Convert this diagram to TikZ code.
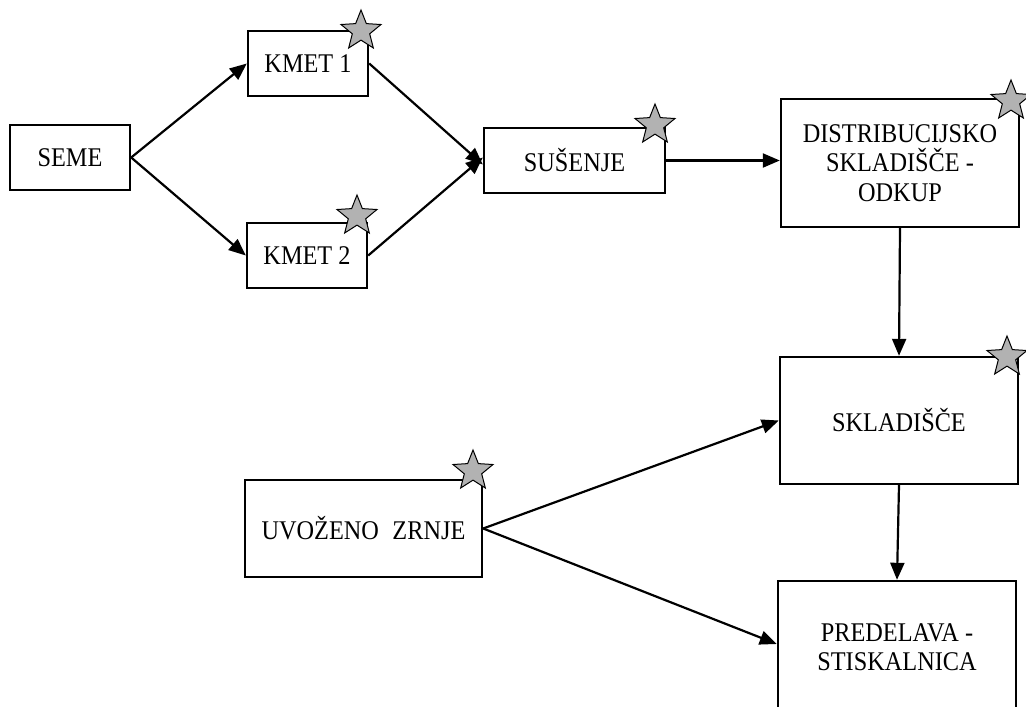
\documentclass[tikz,border=0pt]{standalone}
\usepackage{fontspec}
\setmainfont[FakeStretch=0.9]{Liberation Serif}
\usetikzlibrary{shapes.geometric,arrows.meta}
\begin{document}
\begin{tikzpicture}[x=1pt,y=-1pt,
  box/.style={draw,line width=2.4pt,inner sep=0pt,align=center,
    font=\fontsize{27}{29.5}\selectfont},
  starmark/.style={star,star points=5,star point ratio=2.3,minimum size=42pt,
    inner sep=0pt,draw,line width=1pt,fill=gray!60},
  arr/.style={line width=2.2pt,-{Triangle[length=17pt,width=14pt]}}]
\useasboundingbox (0,0) rectangle (1026,707);
\clip (0,0) rectangle (1026,707);
\fill[white] (0,0) rectangle (1026,707);
% boxes
\node[box,minimum width=120pt,minimum height=65pt] (seme) at (70,157.5) {SEME};
\node[box,minimum width=120pt,minimum height=65pt] (k1) at (308,63.5) {KMET 1};
\node[box,minimum width=120pt,minimum height=65pt] (k2) at (307,255.5) {KMET 2};
\node[box,minimum width=181pt,minimum height=65pt] (sus) at (574.5,160.5) {SUŠENJE};
\node[box,minimum width=238pt,minimum height=128pt] (dis) at (900,163) {DISTRIBUCIJSKO\\SKLADIŠČE -\\ODKUP};
\node[box,minimum width=238pt,minimum height=127pt] (skl) at (899,420.5) {SKLADIŠČE};
\node[box,minimum width=237pt,minimum height=97pt] (uvo) at (363.5,528.5) {UVOŽENO\enspace ZRNJE};
\node[box,minimum width=238pt,minimum height=132pt] (pre) at (897,647) {PREDELAVA -\\STISKALNICA};
% connectors
\draw[arr] (seme.east) -- (k1.west);
\draw[arr] (seme.east) -- (k2.west);
\coordinate (sin1) at ([yshift=-4pt]sus.west);
\coordinate (sin2) at ([yshift=3pt]sus.west);
\draw[arr] (k1.east) -- (sin1);
\draw[arr] (k2.east) -- (sin2);
\draw[arr] (sus.east) -- (sus.east -| dis.west);
\draw[arr] (dis.south) -- (skl.north);
\draw[arr] (skl.south) -- (pre.north);
\draw[arr] (uvo.east) -- (skl.west);
\draw[arr] (uvo.east) -- ([yshift=3pt]pre.west);
% stars
\node[starmark] (st1) at (361,31) {};
\node[starmark] (st2) at (357,216) {};
\node[starmark] (st3) at (655,125) {};
\node[starmark] (st4) at (1011,101) {};
\node[starmark] (st5) at (1007,357) {};
\node[starmark] (st6) at (473,471) {};
\end{tikzpicture}
\end{document}
